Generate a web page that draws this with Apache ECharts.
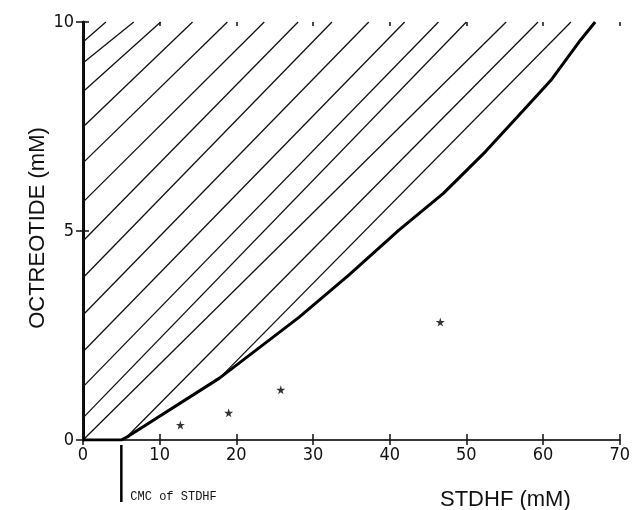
<!DOCTYPE html>
<html><head><meta charset="utf-8">
<script src="https://cdn.jsdelivr.net/npm/echarts@6/dist/echarts.min.js"></script>
<style>html,body{margin:0;padding:0;background:#fff}#c{width:633px;height:510px}</style>
</head><body><div id="c"></div>
<script>
// ---- data ----
const xMin = 0, xMax = 70, xStep = 10;
const yMin = 0, yMax = 10, yStep = 5;
const boundaryX = [0, 5, 6, 17.8, 28.2, 34.7, 41.2, 47, 52.5, 57, 61, 64.9, 66.8];
const boundaryY = [0, 0, 0.1, 1.48, 2.94, 3.95, 5.02, 5.9, 6.9, 7.8, 8.6, 9.57, 10];
const hatchStartX = [0, 0, 0, 0, 0, 0, 0, 0, 0, 0, 0, 0, 0, 5.7, 17.8];
const hatchStartY = [9.52, 9.02, 8.33, 7.49, 6.63, 5.69, 4.76, 3.88, 2.99, 2.11, 1.27, 0.53, 0, 0.07, 1.48];
const hatchEndX = [2.99, 6.62, 10.13, 14.29, 18.83, 23.64, 28.05, 32.47, 37.27, 41.95, 46.36, 50.0, 55.19, 59.35, 63.64];
const hatchEndY = 10;
const starX = [12.7, 19.0, 25.8, 46.6];
const starY = [0.36, 0.65, 1.2, 2.82];
const cmcX = 5;
const cmcLabel = 'CMC of STDHF';
const xTitle = 'STDHF (mM)';
const yTitle = 'OCTREOTIDE (mM)';

// ---- chart ----
const chart = echarts.init(document.getElementById('c'), null, {renderer: 'canvas'});
const tickFont = {fontFamily: '"Liberation Sans Narrow","DejaVu Sans Condensed","DejaVu Sans",sans-serif', fontSize: 18, color: '#111'};
const baseX = {type: 'value', min: xMin, max: xMax, interval: xStep, splitLine: {show: false}};
const baseY = {type: 'value', min: yMin, max: yMax, interval: yStep, splitLine: {show: false}};

const boundary = boundaryX.map((x, i) => [x, boundaryY[i]]);
const hatch = hatchStartX.map((x, i) => ({coords: [[x, hatchStartY[i]], [hatchEndX[i], hatchEndY]]}));
const stars = starX.map((x, i) => [x, starY[i]]);

chart.setOption({
  animation: false,
  backgroundColor: '#fff',
  grid: {left: 83, top: 22, width: 539, height: 418, containLabel: false},
  xAxis: [
    Object.assign({}, baseX, {position: 'bottom', axisLine: {lineStyle: {color: '#111', width: 1.5}},
      axisTick: {inside: false, length: 5, lineStyle: {color: '#111', width: 1.5}},
      axisLabel: Object.assign({margin: 6}, tickFont)}),
    Object.assign({}, baseX, {position: 'bottom', axisLine: {show: false},
      axisTick: {inside: true, length: 6, lineStyle: {color: '#111', width: 1.5}}, axisLabel: {show: false}}),
    Object.assign({}, baseX, {position: 'top', axisLine: {lineStyle: {color: '#333', width: 1.5}},
      axisTick: {inside: false, length: 5, lineStyle: {color: '#111', width: 1.5}}, axisLabel: {show: false}}),
    Object.assign({}, baseX, {position: 'top', axisLine: {show: false},
      axisTick: {inside: true, length: 4, lineStyle: {color: '#111', width: 1.5}}, axisLabel: {show: false}})
  ],
  yAxis: [
    Object.assign({}, baseY, {position: 'left', axisLine: {lineStyle: {color: '#000', width: 3}},
      axisTick: {inside: false, length: 7, lineStyle: {color: '#111', width: 1.5}},
      axisLabel: Object.assign({margin: 9}, tickFont)}),
    Object.assign({}, baseY, {position: 'right', axisLine: {lineStyle: {color: '#111', width: 2}},
      axisTick: {inside: false, length: 6, lineStyle: {color: '#111', width: 1.5}}, axisLabel: {show: false}}),
    Object.assign({}, baseY, {position: 'right', axisLine: {show: false},
      axisTick: {inside: true, length: 6, lineStyle: {color: '#111', width: 1.5}}, axisLabel: {show: false}})
  ],
  series: [
    {type: 'lines', coordinateSystem: 'cartesian2d', xAxisIndex: 0, yAxisIndex: 0, silent: true,
      lineStyle: {color: '#111', width: 1.3, opacity: 1}, data: hatch},
    {type: 'line', xAxisIndex: 0, yAxisIndex: 0, data: boundary, showSymbol: false, symbol: 'none',
      lineStyle: {color: '#000', width: 3}},
    {type: 'scatter', xAxisIndex: 0, yAxisIndex: 0, data: stars, symbolSize: 9,
      symbol: 'path://M50,0 L61,35 L98,35 L68,57 L79,91 L50,70 L21,91 L32,57 L2,35 L39,35 Z',
      itemStyle: {color: '#000'}},
    {type: 'custom', xAxisIndex: 0, yAxisIndex: 0, clip: false, data: [[cmcX, 0]],
      renderItem: function (params, api) {
        const p = api.coord([api.value(0), api.value(1)]);
        return {type: 'group', children: [
          {type: 'line', shape: {x1: p[0], y1: p[1] + 5, x2: p[0], y2: p[1] + 62}, style: {stroke: '#000', lineWidth: 2.5}},
          {type: 'text', style: {x: p[0] + 9, y: p[1] + 57, text: cmcLabel, fill: '#111',
            font: '12px "Liberation Mono","DejaVu Sans Mono",monospace', textVerticalAlign: 'middle'}}
        ]};
      }}
  ],
  graphic: [
    {type: 'text', x: 440, y: 500, style: {text: xTitle, fill: '#111',
      font: '22px "Liberation Sans",Arial,sans-serif', textVerticalAlign: 'middle'}},
    {type: 'text', x: 38, y: 228, rotation: Math.PI / 2, style: {text: yTitle, fill: '#111',
      font: '22px "Liberation Sans",Arial,sans-serif', textAlign: 'center', textVerticalAlign: 'middle'}}
  ]
});
</script></body></html>
